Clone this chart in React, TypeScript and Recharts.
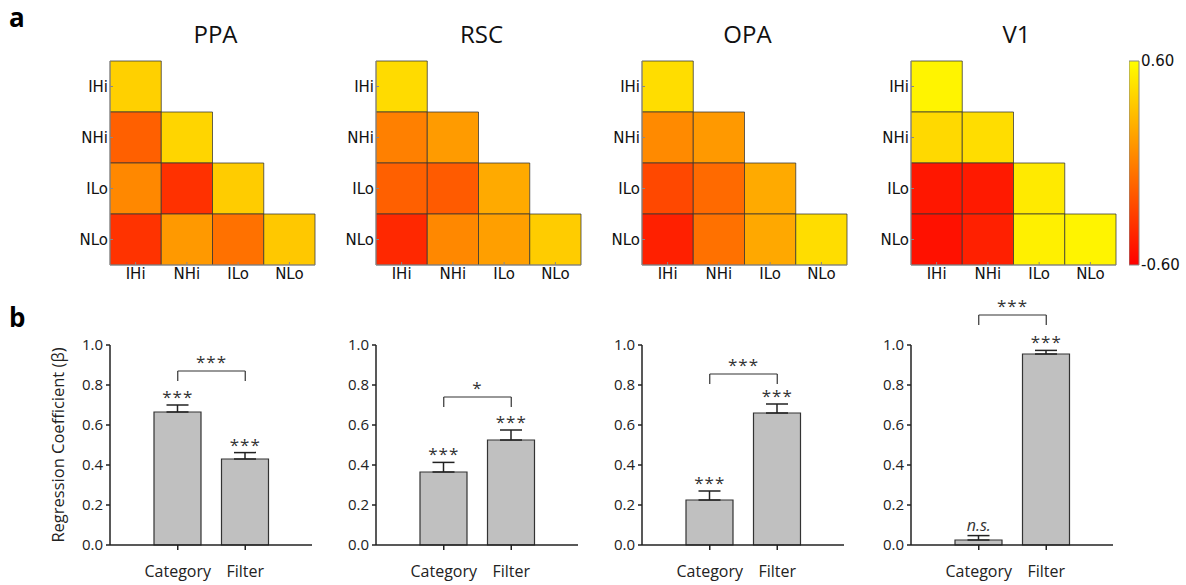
import React from 'react';
import {
  ScatterChart,
  Scatter,
  ComposedChart,
  BarChart,
  Bar,
  ErrorBar,
  XAxis,
  YAxis,
  ReferenceArea,
  ReferenceLine,
  ReferenceDot,
} from 'recharts';

const regions = ['PPA', 'RSC', 'OPA', 'V1'];
const conditions = ['IHi', 'NHi', 'ILo', 'NLo'];
const predictors = ['Category', 'Filter'];

// lower triangle of each similarity matrix, row by row (IHi, NHi, ILo, NLo)
const ppaCorr = [[0.38], [-0.15, 0.4], [0.04, -0.37, 0.36], [-0.36, 0.12, -0.07, 0.34]];
const rscCorr = [[0.43], [0.0, 0.13], [-0.15, -0.17, 0.2], [-0.41, 0.04, 0.15, 0.36]];
const opaCorr = [[0.44], [0.05, 0.12], [-0.26, -0.1, 0.2], [-0.45, -0.07, 0.19, 0.44]];
const v1Corr = [[0.55], [0.42, 0.44], [-0.49, -0.48, 0.5], [-0.52, -0.45, 0.53, 0.55]];
const colorRange = [-0.6, 0.6];

// regression coefficients (beta), upward SEM, significance marks
const ppaBeta = [0.665, 0.43];
const rscBeta = [0.365, 0.525];
const opaBeta = [0.225, 0.66];
const v1Beta = [0.025, 0.955];
const ppaSem = [0.035, 0.032];
const rscSem = [0.048, 0.05];
const opaSem = [0.045, 0.045];
const v1Sem = [0.022, 0.018];
const ppaSig = ['***', '***'];
const rscSig = ['***', '***'];
const opaSig = ['***', '***'];
const v1Sig = ['n.s.', '***'];
const bracketLevel = [0.87, 0.74, 0.855, 1.15];
const bracketSig = ['***', '*', '***', '***'];
const betaTicks = [0, 0.2, 0.4, 0.6, 0.8, 1.0];

const corrs = [ppaCorr, rscCorr, opaCorr, v1Corr];
const betas = [ppaBeta, rscBeta, opaBeta, v1Beta];
const sems = [ppaSem, rscSem, opaSem, v1Sem];
const sigs = [ppaSig, rscSig, opaSig, v1Sig];

const panelX = [110, 376, 642, 911];
const HM_W = 205;
const BAR_W = 202;
const cellTicks = [0.5, 1.5, 2.5, 3.5];
const HM_FONT = '"DejaVu Sans", sans-serif';
const FONT = '"Open Sans", sans-serif';

const autumn = (v: number) => {
  const t = Math.max(0, Math.min(1, (v - colorRange[0]) / (colorRange[1] - colorRange[0])));
  return `rgb(255, ${Math.round(255 * t)}, 0)`;
};

const Heatmap = ({ idx }: { idx: number }) => {
  const m = corrs[idx];
  const cells = m.flatMap((row, r) => row.map((v, c) => ({ x: c + 0.5, y: r + 0.5, r, c, v })));
  const label = (t: number) => conditions[Math.floor(t)] ?? '';
  const tickStyle = { fontSize: 15, fill: '#111', fontFamily: HM_FONT };
  return (
    <ScatterChart width={50 + HM_W + 5} height={61 + 204 + 22} margin={{ top: 61, right: 5, left: 0, bottom: 0 }}>
      <XAxis type="number" dataKey="x" domain={[0, 4]} ticks={cellTicks} tickFormatter={label} interval={0}
        tick={tickStyle} height={22} tickSize={-3} tickMargin={6} axisLine={{ stroke: '#999' }} tickLine={{ stroke: '#888' }} />
      <XAxis xAxisId="top" orientation="top" type="number" domain={[0, 4]} ticks={cellTicks}
        tickFormatter={() => ''} height={0} tickSize={-3} axisLine={{ stroke: '#999' }} tickLine={{ stroke: '#888' }} />
      <YAxis type="number" dataKey="y" domain={[0, 4]} reversed ticks={cellTicks} tickFormatter={label} interval={0}
        tick={tickStyle} width={50} tickSize={-3} tickMargin={5} axisLine={{ stroke: '#999' }} tickLine={{ stroke: '#888' }} />
      <YAxis yAxisId="right" orientation="right" type="number" domain={[0, 4]} reversed ticks={cellTicks}
        tickFormatter={() => ''} width={0} tickSize={-3} axisLine={{ stroke: '#999' }} tickLine={{ stroke: '#888' }} />
      {cells.map((d) => (
        <ReferenceArea key={`${d.r}-${d.c}`} x1={d.c} x2={d.c + 1} y1={d.r} y2={d.r + 1}
          fill={autumn(d.v)} fillOpacity={1} stroke="#333" strokeOpacity={0.75} strokeWidth={1} />
      ))}
      <Scatter data={cells} shape={() => <g />} isAnimationActive={false} />
    </ScatterChart>
  );
};

const ColorBar = () => (
  <ComposedChart width={57} height={285} margin={{ top: 61, right: 0, left: 0, bottom: 20 }}>
    <defs>
      <linearGradient id="autumnGrad" x1="0" y1="1" x2="0" y2="0">
        <stop offset="0%" stopColor={autumn(colorRange[0])} />
        <stop offset="100%" stopColor={autumn(colorRange[1])} />
      </linearGradient>
    </defs>
    <XAxis type="number" domain={[0, 1]} hide />
    <YAxis orientation="right" type="number" domain={colorRange} ticks={colorRange} interval={0}
      tickFormatter={(v: number) => v.toFixed(2)} width={47} tickSize={0} tickMargin={2}
      axisLine={false} tickLine={false} tick={{ fontSize: 15, fill: '#111', fontFamily: HM_FONT }} />
    <ReferenceArea x1={0} x2={1} y1={colorRange[0]} y2={colorRange[1]} fill="url(#autumnGrad)" fillOpacity={1}
      stroke="#888" strokeWidth={1} />
    <Scatter data={colorRange.map((v) => ({ x: 0.5, y: v }))} dataKey="y" shape={() => <g />} isAnimationActive={false} />
  </ComposedChart>
);

const BetaChart = ({ idx }: { idx: number }) => {
  const yW = idx === 0 ? 100 : 50;
  const data = predictors.map((name, i) => ({
    name,
    beta: betas[idx][i],
    err: [0, sems[idx][i]],
    sig: sigs[idx][i],
  }));
  const lvl = bracketLevel[idx];
  const ink = '#222';
  const sigStyle = { fontSize: 17, fill: '#333', fontFamily: FONT, letterSpacing: 1 };
  return (
    <BarChart width={yW + BAR_W + 5} height={295} data={data} margin={{ top: 55, right: 5, left: 0, bottom: 0 }}>
      <XAxis dataKey="name" padding={{ left: 34, right: 33 }} height={40} tickSize={5} tickMargin={16}
        axisLine={{ stroke: ink, strokeWidth: 1.5 }} tickLine={{ stroke: ink, strokeWidth: 1.5 }}
        tick={{ fontSize: 16, fill: '#222', fontFamily: FONT }} />
      <YAxis type="number" domain={[0, 1]} ticks={betaTicks} tickFormatter={(v: number) => v.toFixed(1)} interval={0}
        width={yW} tickSize={4} tickMargin={3} axisLine={{ stroke: ink, strokeWidth: 1.5 }}
        tickLine={{ stroke: ink, strokeWidth: 1.5 }} tick={{ fontSize: 15, fill: '#222', fontFamily: FONT }}
        label={idx === 0 ? { value: 'Regression Coefficient (β)', angle: -90, position: 'center', dx: -2,
          style: { fontSize: 16.5, fill: '#222', fontFamily: FONT, textAnchor: 'middle' } } : undefined} />
      <Bar dataKey="beta" fill="#c0c0c0" stroke="#333" strokeWidth={1.2} barSize={47} isAnimationActive={false}>
        <ErrorBar dataKey="err" width={11} stroke={ink} strokeWidth={1.5} direction="y" />
      </Bar>
      {data.map((d) => (
        <ReferenceDot key={d.name} x={d.name} y={d.beta + d.err[1]} r={0} ifOverflow="visible"
          label={d.sig === 'n.s.'
            ? { value: d.sig, position: 'top', offset: 5, fontSize: 16, fill: '#333', fontFamily: FONT, fontStyle: 'italic' }
            : { value: d.sig, position: 'top', offset: 2, ...sigStyle }} />
      ))}
      <ReferenceLine segment={[{ x: predictors[0], y: lvl }, { x: predictors[1], y: lvl }]} stroke="#333"
        strokeWidth={1.2} ifOverflow="visible"
        label={{ value: bracketSig[idx], position: 'top', offset: 3, ...sigStyle }} />
      <ReferenceLine segment={[{ x: predictors[0], y: lvl }, { x: predictors[0], y: lvl - 0.05 }]} stroke="#333"
        strokeWidth={1.2} ifOverflow="visible" />
      <ReferenceLine segment={[{ x: predictors[1], y: lvl }, { x: predictors[1], y: lvl - 0.05 }]} stroke="#333"
        strokeWidth={1.2} ifOverflow="visible" />
    </BarChart>
  );
};

export default function App() {
  return (
    <div style={{ position: 'absolute', left: 0, top: 0, width: 1186, height: 585, background: '#fff', overflow: 'hidden' }}>
      <div style={{ position: 'absolute', left: 9, top: 4, fontSize: 26, fontWeight: 700, lineHeight: 1, fontFamily: FONT }}>a</div>
      <div style={{ position: 'absolute', left: 9, top: 304, fontSize: 26, fontWeight: 700, lineHeight: 1, fontFamily: FONT }}>b</div>
      {regions.map((name, i) => (
        <div key={name}>
          <div style={{ position: 'absolute', left: panelX[i] + 3, width: HM_W, top: 22, textAlign: 'center',
            fontSize: 24, lineHeight: 1, fontFamily: FONT, color: '#111' }}>{name}</div>
          <div style={{ position: 'absolute', left: panelX[i] - 50, top: 0 }}>
            <Heatmap idx={i} />
          </div>
          <div style={{ position: 'absolute', left: panelX[i] - (i === 0 ? 100 : 50), top: 290 }}>
            <BetaChart idx={i} />
          </div>
        </div>
      ))}
      <div style={{ position: 'absolute', left: 1129, top: 0 }}>
        <ColorBar />
      </div>
    </div>
  );
}
